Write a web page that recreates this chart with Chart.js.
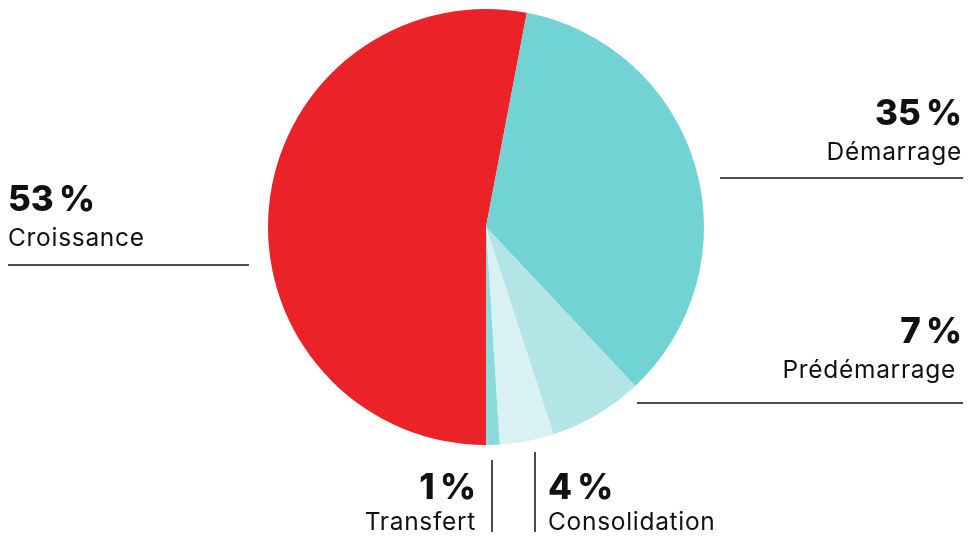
<!DOCTYPE html>
<html><head><meta charset="utf-8">
<script src="https://cdn.jsdelivr.net/npm/chart.js@4"></script>
<style>html,body{margin:0;padding:0;background:#fff}#wrap{width:976px;height:540px}</style>
</head><body><div id="wrap"><canvas id="c" width="976" height="540"></canvas></div>
<script>
const categories = ["Croissance", "Démarrage", "Prédémarrage", "Consolidation", "Transfert"];
const values = [53, 35, 7, 4, 1];
const percentLabels = ["53 %", "35 %", "7 %", "4 %", "1 %"];
const colors = ["#EC2229", "#72D3D4", "#B3E5E7", "#D9F1F3", "#8CDBDC"];

// layout of the annotation blocks (per category)
const labelLayout = [
  {align:"left",  x:8,   pctY:211, nameY:246, line:[8,265,249,265]},
  {align:"right", x:962, pctY:125, nameY:160, line:[720,178,963,178]},
  {align:"right", x:962, pctY:343, nameY:378, nameX:956, line:[637,403,963,403]},
  {align:"left",  x:548, pctY:499, nameY:530, line:[535,452,535,532]},
  {align:"right", x:476, pctY:499, nameY:530, line:[492,460,492,532]}
];

const labelPlugin = {
  id: "labels",
  afterDraw(chart) {
    const ctx = chart.ctx;
    ctx.save();
    categories.forEach((name, i) => {
      const L = labelLayout[i];
      ctx.fillStyle = "#111";
      ctx.textAlign = L.align;
      ctx.textBaseline = "alphabetic";
      ctx.letterSpacing = "0px";
      ctx.font = "800 35px Inter";
      ctx.fillText(percentLabels[i].replace(" ", "\u2009"), L.x, L.pctY);
      ctx.font = "400 24.5px Inter";
      ctx.letterSpacing = "0.7px";
      ctx.fillText(name, L.nameX || L.x, L.nameY);
      ctx.strokeStyle = "#111";
      ctx.lineWidth = 1.5;
      ctx.beginPath();
      ctx.moveTo(L.line[0], L.line[1]);
      ctx.lineTo(L.line[2], L.line[3]);
      ctx.stroke();
    });
    ctx.restore();
  }
};

new Chart(document.getElementById("c"), {
  type: "pie",
  data: { labels: categories, datasets: [{ data: values, backgroundColor: colors, borderWidth: 0 }] },
  options: {
    responsive: false,
    animation: false,
    rotation: 180,
    layout: { padding: { top: 9, bottom: 95, left: 0, right: 4 } },
    plugins: { legend: { display: false }, tooltip: { enabled: false } }
  },
  plugins: [labelPlugin]
});
</script></body></html>
